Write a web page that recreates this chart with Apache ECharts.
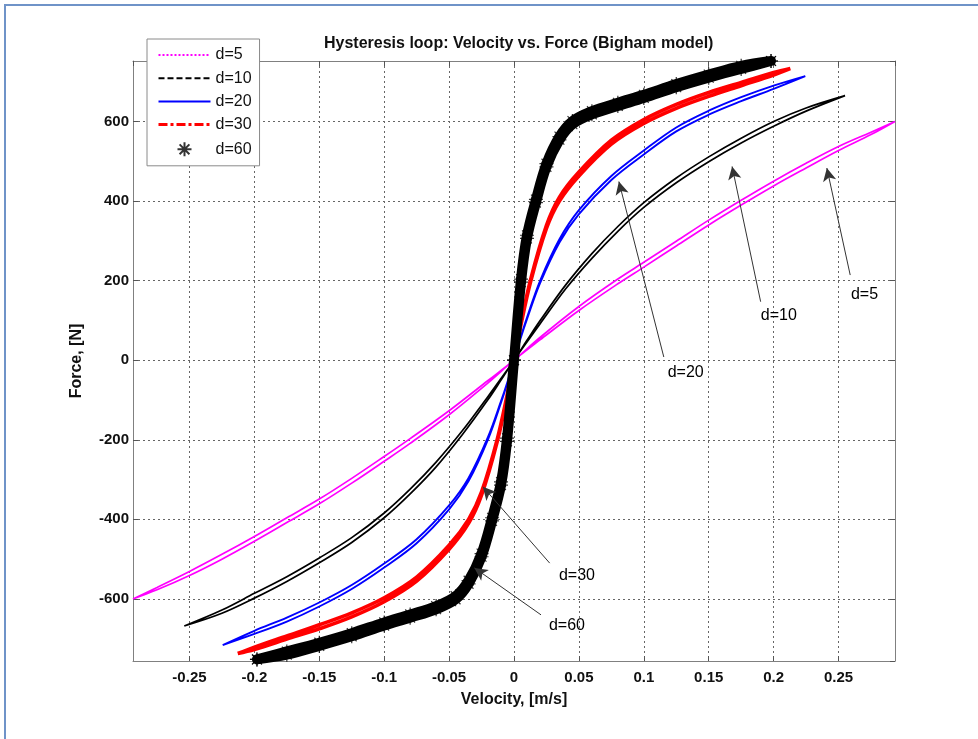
<!DOCTYPE html>
<html>
<head>
<meta charset="utf-8">
<script src="https://cdn.jsdelivr.net/npm/echarts@6/dist/echarts.min.js"></script>
<style>
html,body{margin:0;padding:0;background:#fff;}
#chart{width:978px;height:739px;}
</style>
</head>
<body>
<div id="chart"></div>
<script>
// ---------- data ----------
const xTicks = [-0.25,-0.2,-0.15,-0.1,-0.05,0,0.05,0.1,0.15,0.2,0.25];
const yTicks = [-600,-400,-200,0,200,400,600];

// d=5
const v5 = [-0.2935,-0.275,-0.25,-0.225,-0.2,-0.175,-0.15,-0.125,-0.1,-0.08,-0.05,-0.02,0,0.02,0.05,0.08,0.1,0.125,0.15,0.175,0.2,0.225,0.25,0.275,0.2935];
const f5Rise = [-600,-577,-541,-500,-455,-408,-361,-309,-254,-209,-137,-57,0,51,125,192,234,287,340,390,438,483,527,567,600];
const f5Fall = [-600,-571,-531,-488,-443,-396,-349,-297,-242,-197,-127,-51,0,57,135,204,246,299,352,402,450,495,537,573,600];

// d=10
const v10 = [-0.254,-0.225,-0.2,-0.175,-0.15,-0.125,-0.1,-0.08,-0.06,-0.04,-0.02,-0.01,0,0.01,0.02,0.04,0.06,0.08,0.1,0.125,0.15,0.175,0.2,0.225,0.255];
const f10Rise = [-668,-636,-598,-556,-509,-458,-396,-336,-268,-188,-99,-50,0,46,91,180,256,324,384,446,499,546,588,626,665];
const f10Fall = [-668,-628,-586,-544,-497,-446,-384,-324,-256,-178,-91,-46,0,50,99,190,268,336,396,458,511,558,600,634,665];

// d=20
const v20 = [-0.2244,-0.2,-0.175,-0.15,-0.125,-0.1,-0.075,-0.05,-0.035,-0.02,-0.01,-0.005,0,0.005,0.01,0.02,0.035,0.05,0.075,0.1,0.125,0.15,0.175,0.2,0.2244];
const f20Rise = [-716,-688,-657,-619,-575,-521,-460,-375,-304,-199,-107,-56,0,54,103,193,296,367,453,517,575,617,651,682,714];
const f20Fall = [-716,-680,-647,-609,-565,-511,-450,-365,-296,-193,-103,-54,0,56,107,199,304,377,463,527,585,627,661,690,714];

// d=30
const v30 = [-0.2128,-0.2,-0.175,-0.15,-0.125,-0.1,-0.075,-0.05,-0.035,-0.025,-0.0128,-0.005,0,0.005,0.0128,0.025,0.035,0.05,0.075,0.1,0.125,0.15,0.175,0.2,0.2128];
const f30Rise = [-737,-727,-701,-675,-645,-607,-555,-475,-410,-339,-203,-87,0,83,197,331,400,463,543,595,633,663,690,717,733];
const f30Fall = [-737,-721,-693,-665,-635,-597,-545,-465,-400,-331,-197,-83,0,87,203,339,410,473,553,605,643,673,698,723,733];

// d=60
const v60 = [-0.198,-0.175,-0.15,-0.125,-0.1,-0.08,-0.06,-0.045,-0.035,-0.025,-0.0169,-0.01,-0.0054,0,0.0054,0.01,0.0169,0.025,0.035,0.045,0.06,0.08,0.1,0.125,0.15,0.175,0.198];
const f60Rise = [-752,-740,-718,-694,-667,-647,-626,-601,-562,-494,-404,-314,-204,0,196,306,396,486,554,593,618,639,659,686,710,732,752];
const f60Fall = [-752,-732,-710,-686,-659,-639,-618,-593,-554,-486,-396,-306,-196,0,204,314,404,494,562,601,626,647,667,694,718,740,752];

// arrow annotations: text, arrow tail, arrow head, label centre (data units)
const annotations = [
  {text:'d=5',  tail:[0.259,214],  head:[0.241,483],   label:[0.270,166]},
  {text:'d=10', tail:[0.190,147],  head:[0.168,487],   label:[0.204,111]},
  {text:'d=20', tail:[0.1154,8],   head:[0.0808,449],  label:[0.1323,-30]},
  {text:'d=30', tail:[0.0275,-510],head:[-0.0240,-318],label:[0.0485,-541]},
  {text:'d=60', tail:[0.0208,-640],head:[-0.0305,-522],label:[0.0408,-667]}
];

// ---------- build loops ----------
function loop(v, rise, fall){
  const pts = [];
  for (let i = 0; i < v.length; i++) pts.push([v[i], rise[i]]);
  for (let i = v.length - 1; i >= 0; i--) pts.push([v[i], fall[i]]);
  return pts;
}
const FONT = 'Liberation Sans, Arial, sans-serif';
const starPath = 'path://M0,-10L0,10M-10,0L10,0M-7,-7L7,7M-7,7L7,-7';

const chart = echarts.init(document.getElementById('chart'), null, {renderer:'canvas'});
const axisCommon = {
  type:'value',
  axisLine:{show:true, onZero:false, lineStyle:{color:'#808080', width:1}},
  axisTick:{show:true, inside:true, length:5, lineStyle:{color:'#555'}},
};
const SMOOTH = 0.35;
const option = {
  animation:false,
  backgroundColor:'#fff',
  title:{
    text:'Hysteresis loop: Velocity vs. Force (Bigham model)',
    left:319, top:31,
    textStyle:{fontFamily:FONT, fontSize:16, fontWeight:'bold', color:'#111'}
  },
  grid:{left:133, right:83, top:61, bottom:78, outerBoundsMode:'none', containLabel:false},
  legend:{
    orient:'vertical', left:147, top:39,
    padding:[8,8,7,10], itemGap:7.2, itemWidth:52, itemHeight:14,
    backgroundColor:'#fff', borderColor:'#8a8a8a', borderWidth:1, borderRadius:0,
    textStyle:{fontFamily:FONT, fontSize:16, color:'#111', lineHeight:16},
    data:[
      {name:'d=5', itemStyle:{opacity:0}, lineStyle:{type:[2,2], width:2, color:'#ff00ff'}},
      {name:'d=10', itemStyle:{opacity:0}, lineStyle:{type:[6,3], width:2, color:'#000'}},
      {name:'d=20', itemStyle:{opacity:0}, lineStyle:{type:'solid', width:2, color:'#0000ff'}},
      {name:'d=30', itemStyle:{opacity:0}, lineStyle:{type:[9,3,3,3], width:3, color:'#ff0000'}},
      {name:'d=60'}
    ]
  },
  xAxis:[
    Object.assign({}, axisCommon, {
      min:-0.2935, max:0.2935, splitNumber:12, minInterval:0.05, maxInterval:0.05,
      position:'bottom',
      axisLabel:{show:true, color:'#111', fontFamily:FONT, fontSize:15, fontWeight:'bold', margin:9,
        showMinLabel:false, showMaxLabel:false,
        formatter:function(v){ const r = Math.round(v*100)/100; return xTicks.indexOf(r) >= 0 ? String(r) : ''; }},
      splitLine:{show:true, lineStyle:{type:[2,3], color:'#666', width:1}},
      name:'Velocity, [m/s]', nameLocation:'middle', nameGap:31,
      nameTextStyle:{fontFamily:FONT, fontSize:16, fontWeight:'bold', color:'#111', verticalAlign:'top'}
    }),
    Object.assign({}, axisCommon, {
      min:-0.2935, max:0.2935, splitNumber:12, minInterval:0.05, maxInterval:0.05,
      position:'top', axisLabel:{show:false}, splitLine:{show:false}
    })
  ],
  yAxis:[
    Object.assign({}, axisCommon, {
      min:-756, max:752, splitNumber:7, minInterval:200, maxInterval:200,
      position:'left',
      axisLabel:{show:true, color:'#111', fontFamily:FONT, fontSize:15, fontWeight:'bold', margin:4,
        showMinLabel:false, showMaxLabel:false,
        formatter:function(v){ return yTicks.indexOf(v) >= 0 ? String(v) : ''; }},
      splitLine:{show:true, lineStyle:{type:[2,3], color:'#666', width:1}},
      name:'Force, [N]', nameLocation:'middle', nameGap:48,
      nameTextStyle:{fontFamily:FONT, fontSize:16, fontWeight:'bold', color:'#111'}
    }),
    Object.assign({}, axisCommon, {
      min:-756, max:752, splitNumber:7, minInterval:200, maxInterval:200,
      position:'right', axisLabel:{show:false}, splitLine:{show:false}
    })
  ],
  series:[
    {name:'d=5', type:'line', data:loop(v5,f5Rise,f5Fall), symbol:'none', smooth:SMOOTH, color:'#ff00ff',
      lineStyle:{color:'#ff00ff', width:1.7}},
    {name:'d=10', type:'line', data:loop(v10,f10Rise,f10Fall), symbol:'none', smooth:SMOOTH, color:'#000',
      lineStyle:{color:'#000', width:1.7}},
    {name:'d=20', type:'line', data:loop(v20,f20Rise,f20Fall), symbol:'none', smooth:SMOOTH, color:'#0000ff',
      lineStyle:{color:'#0000ff', width:1.9}},
    {name:'d=30', type:'line', data:loop(v30,f30Rise,f30Fall), symbol:'none', smooth:SMOOTH, color:'#ff0000',
      lineStyle:{color:'#ff0000', width:3.6}},
    {name:'d=60 band', type:'line', data:loop(v60,f60Rise,f60Fall), symbol:'none', smooth:SMOOTH, clip:false,
      lineStyle:{color:'#000', width:10, join:'round', cap:'round'}},
    {name:'d=60', type:'scatter', data:loop(v60,f60Rise,f60Fall), symbol:starPath, symbolSize:14, clip:false,
      itemStyle:{color:'none', borderColor:'#000', borderWidth:1.2}},
    {name:'annotation arrows', type:'line', data:[], symbol:'none',
      markLine:{silent:true, animation:false, symbol:['none','arrow'], symbolSize:[10,13], precision:4,
        lineStyle:{color:'#333', width:1, type:'solid'}, label:{show:false},
        data:annotations.map(a => [{coord:a.tail}, {coord:a.head}])},
      markPoint:{silent:true, animation:false, symbol:'circle', symbolSize:0,
        itemStyle:{color:'rgba(0,0,0,0)'},
        label:{show:true, position:'inside', formatter:'{b}', color:'#000', fontFamily:FONT, fontSize:16},
        data:annotations.map(a => ({name:a.text, coord:a.label}))}}
  ],
  graphic:[
    {type:'rect', shape:{x:5, y:5, width:1000, height:1000}, silent:true, z:-10,
      style:{fill:'none', stroke:'#6f93c8', lineWidth:2}}
  ]
};
chart.setOption(option);
</script>
</body>
</html>
